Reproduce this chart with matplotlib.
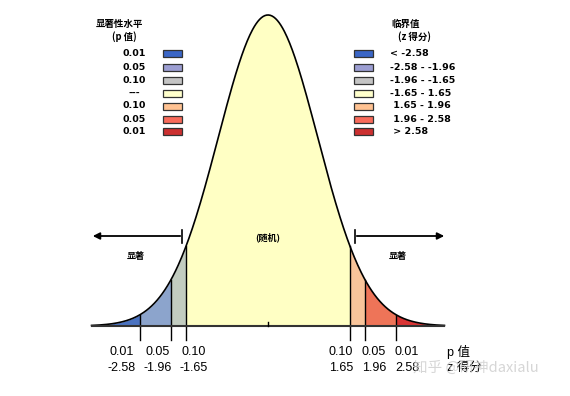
import numpy as np
import matplotlib.pyplot as plt
import matplotlib.transforms as mtransforms
from matplotlib.patches import Rectangle

plt.rcParams['font.family'] = ['Noto Sans CJK SC', 'DejaVu Sans']

# data
z_cut = [-2.58, -1.96, -1.65, 1.65, 1.96, 2.58]
p_lab = ["0.01", "0.05", "0.10", "0.10", "0.05", "0.01"]
z_lab = ["-2.58", "-1.96", "-1.65", "1.65", "1.96", "2.58"]
z_min, z_max = -3.55, 3.55
fill_colors = ["#4a72c0", "#8ca4cc", "#c2ccc0", "#ffffc4", "#f8c49a", "#ee7458", "#d93434"]

leg_p = ["0.01", "0.05", "0.10", "---", "0.10", "0.05", "0.01"]
leg_z = ["< -2.58", "-2.58 - -1.96", "-1.96 - -1.65", "-1.65 - 1.65",
         " 1.65 - 1.96", " 1.96 - 2.58", " > 2.58"]
leg_colors = ["#3b66c6", "#9c9ed2", "#c4c4c4", "#ffffcc", "#ffc292", "#f86a5a", "#cc3030"]

fig = plt.figure(figsize=(5.7, 3.96), dpi=100)
ax = fig.add_axes([0, 0, 1, 1])
ax.set_xlim(-268 / 49.7, 302 / 49.7)
ax.set_ylim(-70 / 779.6, 326 / 779.6)
ax.axis("off")

# pixel coords for layout bits
px = mtransforms.Affine2D().scale(1 / 570, -1 / 396).translate(0, 1) + fig.transFigure

def pdf(z):
    return np.exp(-z ** 2 / 2) / np.sqrt(2 * np.pi)

edges = [z_min] + z_cut + [z_max]
for i in range(len(edges) - 1):
    zz = np.linspace(edges[i], edges[i + 1], 100)
    ax.fill_between(zz, 0, pdf(zz), color=fill_colors[i], lw=0)

for z in z_cut:
    ax.plot([z, z], [0, pdf(z)], color="black", lw=1)
    ax.plot([z, z], [0, -0.018], color="black", lw=1)

zz = np.linspace(z_min, z_max, 400)
ax.plot(zz, pdf(zz), color="black", lw=1.2)
ax.plot([z_min, z_max], [0, 0], color="#333333", lw=1.5)
ax.plot([0, 0], [0, 0.005], color="black", lw=1)

# bottom labels
lab_x = [122, 158, 194, 341, 374, 407]
for i in range(len(z_cut)):
    ax.text(lab_x[i], 352, p_lab[i], transform=px, ha="center", va="center",
            fontsize=9, family="Liberation Sans")
    ax.text(lab_x[i], 368, z_lab[i], transform=px, ha="center", va="center",
            fontsize=9, family="Liberation Sans")
ax.text(447, 352, "p 值", transform=px, ha="left", va="center", fontsize=9,
        family=["Liberation Sans", "Noto Sans CJK SC"])
ax.text(447, 368, "z 得分", transform=px, ha="left", va="center", fontsize=9,
        family=["Liberation Sans", "Noto Sans CJK SC"])
ax.text(413, 368, "知乎 @研神daxialu", transform=px, ha="left", va="center",
        fontsize=10.5, color="#cccccc", alpha=0.8)

# arrows
ax.annotate("", xy=(90, 236), xytext=(183, 236), xycoords=px, textcoords=px,
            arrowprops=dict(arrowstyle="-|>", color="black", lw=1.3, mutation_scale=10))
ax.plot([182, 182], [230, 243], color="black", lw=1.2, transform=px)
ax.annotate("", xy=(447, 236), xytext=(354, 236), xycoords=px, textcoords=px,
            arrowprops=dict(arrowstyle="-|>", color="black", lw=1.3, mutation_scale=10))
ax.plot([355, 355], [230, 243], color="black", lw=1.2, transform=px)

ax.text(136, 256, "显著", transform=px, ha="center", va="center", fontsize=6.5, weight="bold")
ax.text(398, 256, "显著", transform=px, ha="center", va="center", fontsize=6.5, weight="bold")
ax.text(268, 237, "(随机)", transform=px, ha="center", va="center", fontsize=6.5, weight="bold")

# legends
ax.text(120, 24, "显著性水平", transform=px, ha="center", va="center", fontsize=6.8, weight="bold")
ax.text(124, 37, "(p 值)", transform=px, ha="center", va="center", fontsize=6.8, weight="bold")
ax.text(406, 24, "临界值", transform=px, ha="center", va="center", fontsize=6.8, weight="bold")
ax.text(414, 37, "(z 得分)", transform=px, ha="center", va="center", fontsize=6.8, weight="bold")

row_y = [53.5, 67, 80.5, 93.5, 106, 119, 131.5]
for i in range(len(leg_p)):
    ax.text(134, row_y[i], leg_p[i], transform=px, ha="center", va="center",
            fontsize=6.8, weight="bold", family="DejaVu Sans")
    ax.add_patch(Rectangle((163, row_y[i] - 3.5), 19, 7, transform=px,
                           facecolor=leg_colors[i], edgecolor="#333333", lw=0.9))
    ax.add_patch(Rectangle((354, row_y[i] - 3.5), 19, 7, transform=px,
                           facecolor=leg_colors[i], edgecolor="#333333", lw=0.9))
    ax.text(390, row_y[i], leg_z[i], transform=px, ha="left", va="center",
            fontsize=6.8, weight="bold", family="DejaVu Sans")

fig.savefig("out.png", dpi=100)
